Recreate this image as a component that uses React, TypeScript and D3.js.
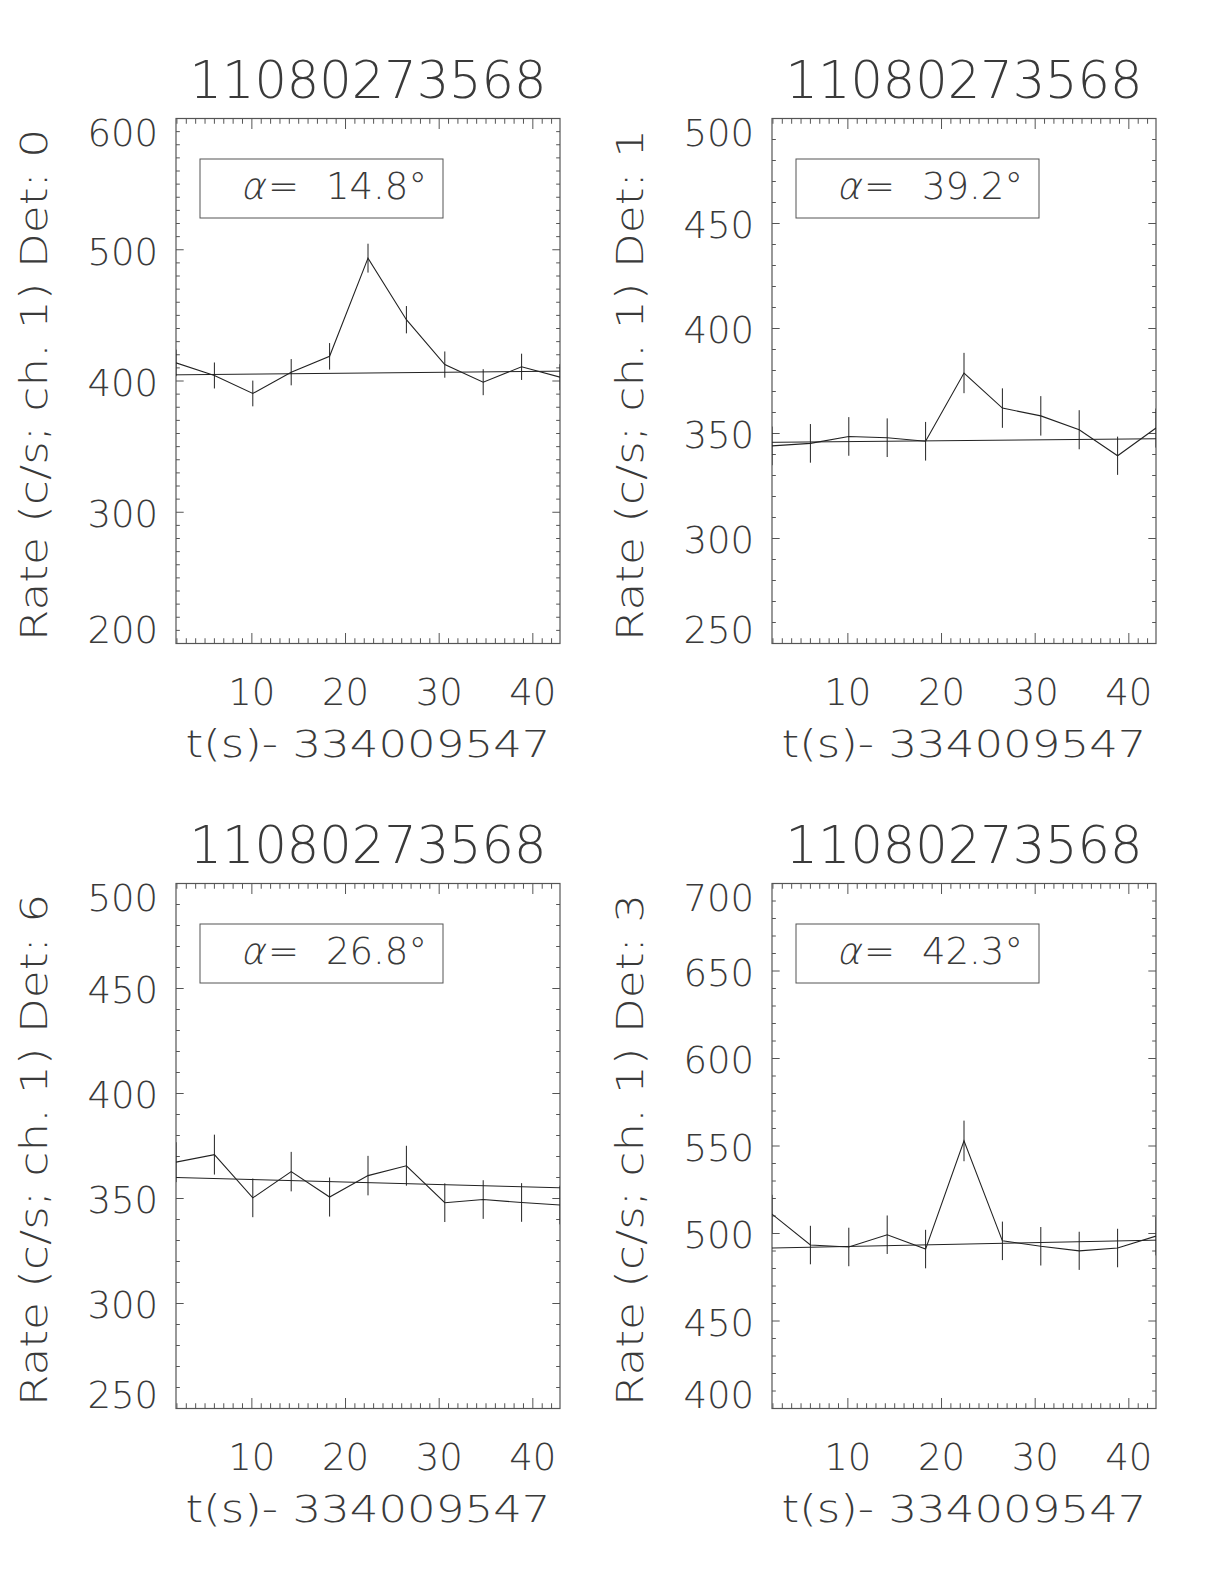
import React from "react";
import * as d3 from "d3";

// ---- data ----
const titleText = "11080273568";
const xLabelText = "t(s)- 334009547";
const detectors = ["0", "1", "6", "3"];
const alphaValues = ["14.8", "39.2", "26.8", "42.3"];
const times = [1.9, 6.0, 10.1, 14.2, 18.3, 22.4, 26.5, 30.6, 34.7, 38.8, 42.9];

const ratesDet0 = [413.8, 404.2, 390.5, 406.7, 418.8, 493.6, 446.7, 412.5, 399.1, 410.8, 402.9];
const errsDet0 = [10.1, 9.9, 9.8, 10.0, 10.1, 11.0, 10.4, 10.0, 9.9, 10.0, 9.9];
const ratesDet1 = [344.1, 345.3, 348.6, 348.0, 346.3, 378.8, 362.1, 358.4, 351.8, 339.4, 352.6];
const errsDet1 = [9.2, 9.2, 9.2, 9.2, 9.2, 9.6, 9.4, 9.4, 9.3, 9.1, 9.3];
const ratesDet6 = [367.3, 370.9, 350.3, 362.8, 350.7, 360.9, 365.6, 348.0, 349.5, 348.1, 346.9];
const errsDet6 = [9.5, 9.5, 9.2, 9.4, 9.3, 9.4, 9.5, 9.2, 9.2, 9.2, 9.2];
const ratesDet3 = [511.1, 493.4, 492.3, 499.3, 491.1, 552.9, 495.8, 492.7, 490.1, 491.7, 498.5];
const errsDet3 = [11.0, 11.0, 11.0, 11.0, 11.0, 11.6, 11.0, 11.0, 10.9, 11.0, 11.0];

const backgroundStart = [404.7, 345.8, 360.0, 491.7];
const backgroundEnd = [407.5, 347.5, 355.1, 496.2];

const yDomains: [number, number][] = [[200, 600], [250, 500], [250, 500], [400, 700]];
const yMajorSteps = [100, 50, 50, 50];
const yMinorStep = 10;
const xMajorTicks = [10, 20, 30, 40];
const xMinorStep = 1;

const rateSeries = [ratesDet0, ratesDet1, ratesDet6, ratesDet3];
const errSeries = [errsDet0, errsDet1, errsDet6, errsDet3];

// ---- layout ----
const W = 1224;
const H = 1584;
const panelLefts = [176, 772, 176, 772];
const panelTops = [118.5, 118.5, 883.5, 883.5];
const PW = 384;
const PH = 525;
const FONT = "'DejaVu Sans', sans-serif";
const TEXT_COLOR = "#3a3a3a";
const AXIS_COLOR = "#555";
const LINE_COLOR = "#222";

function Panel({ idx }: { idx: number }) {
  const left = panelLefts[idx];
  const top = panelTops[idx];
  const x = d3.scaleLinear().domain(d3.extent(times) as [number, number]).range([left, left + PW]);
  const [y0, y1] = yDomains[idx];
  const y = d3.scaleLinear().domain([y0, y1]).range([top + PH, top]);
  const rates = rateSeries[idx];
  const errs = errSeries[idx];

  const xd = x.domain();
  const xMinor = d3.range(Math.ceil(xd[0]), Math.floor(xd[1]) + 1, xMinorStep).filter((v) => !xMajorTicks.includes(v));
  const yMajor = d3.range(y0, y1 + 0.001, yMajorSteps[idx]);
  const yMinor = d3.range(y0, y1 + 0.001, yMinorStep).filter((v) => !yMajor.includes(v));

  const xMajLen = 0.02 * PH;
  const yMajLen = 0.02 * PW;

  const line = d3
    .line<number>()
    .x((_, i) => x(times[i]))
    .y((d) => y(d));

  const clipId = `clip${idx}`;
  const bottom = top + PH;
  const labelHalf = 13.5;
  const alphaX = left + 64;
  const textY = top + 80.5;

  return (
    <g>
      <defs>
        <clipPath id={clipId}>
          <rect x={left} y={top} width={PW} height={PH} />
        </clipPath>
      </defs>
      {/* title */}
      <text x={left + PW / 2} y={top - 21} textAnchor="middle" fontSize={51} fontFamily={FONT} fontWeight={200} fill={TEXT_COLOR}>
        {titleText}
      </text>
      {/* frame */}
      <rect x={left} y={top} width={PW} height={PH} fill="none" stroke={AXIS_COLOR} strokeWidth={1.2} />
      {/* x ticks */}
      {xMajorTicks.map((v) => (
        <g key={"xM" + v}>
          <line x1={x(v)} x2={x(v)} y1={bottom} y2={bottom - xMajLen} stroke={AXIS_COLOR} strokeWidth={1} />
          <line x1={x(v)} x2={x(v)} y1={top} y2={top + xMajLen} stroke={AXIS_COLOR} strokeWidth={1} />
          <text x={x(v)} y={bottom + 61.5} textAnchor="middle" fontSize={37} fontFamily={FONT} fontWeight={200} fill={TEXT_COLOR}>
            {v}
          </text>
        </g>
      ))}
      {xMinor.map((v) => (
        <g key={"xm" + v}>
          <line x1={x(v)} x2={x(v)} y1={bottom} y2={bottom - xMajLen / 2} stroke={AXIS_COLOR} strokeWidth={1} />
          <line x1={x(v)} x2={x(v)} y1={top} y2={top + xMajLen / 2} stroke={AXIS_COLOR} strokeWidth={1} />
        </g>
      ))}
      {/* y ticks */}
      {yMajor.map((v) => {
        const ty = Math.min(Math.max(y(v) + 1.5, top + labelHalf + 1), bottom - labelHalf);
        return (
          <g key={"yM" + v}>
            <line x1={left} x2={left + yMajLen} y1={y(v)} y2={y(v)} stroke={AXIS_COLOR} strokeWidth={1} />
            <line x1={left + PW} x2={left + PW - yMajLen} y1={y(v)} y2={y(v)} stroke={AXIS_COLOR} strokeWidth={1} />
            <text x={left - 18} y={ty} dy="0.36em" textAnchor="end" fontSize={37} fontFamily={FONT} fontWeight={200} fill={TEXT_COLOR}>
              {v}
            </text>
          </g>
        );
      })}
      {yMinor.map((v) => (
        <g key={"ym" + v}>
          <line x1={left} x2={left + yMajLen / 2} y1={y(v)} y2={y(v)} stroke={AXIS_COLOR} strokeWidth={1} />
          <line x1={left + PW} x2={left + PW - yMajLen / 2} y1={y(v)} y2={y(v)} stroke={AXIS_COLOR} strokeWidth={1} />
        </g>
      ))}
      {/* axis titles */}
      <text x={left + PW / 2} y={bottom + 113} textAnchor="middle" fontSize={37} fontFamily={FONT} fontWeight={200} fill={TEXT_COLOR} textLength={365} lengthAdjust="spacingAndGlyphs">
        {xLabelText}
      </text>
      <text
        transform={`translate(${left - 129},${top + PH / 2 + 4}) rotate(-90)`}
        textAnchor="middle"
        fontSize={37}
        fontFamily={FONT}
        fontWeight={200}
        fill={TEXT_COLOR}
        textLength={512}
        lengthAdjust="spacingAndGlyphs"
      >
        {`Rate (c/s; ch. 1) Det: ${detectors[idx]}`}
      </text>
      {/* alpha box */}
      <rect x={left + 24} y={top + 40.5} width={243} height={59} fill="none" stroke={AXIS_COLOR} strokeWidth={1} />
      <text
        transform={`translate(${alphaX},${textY}) skewX(-14)`}
        fontSize={37}
        fontFamily={FONT}
        fontWeight={200}
        fill={TEXT_COLOR}
      >
        α
      </text>
      <text x={left + 92} y={textY} fontSize={37} fontFamily={FONT} fontWeight={200} fill={TEXT_COLOR}>
        =
      </text>
      <text x={left + 150} y={textY} fontSize={37} fontFamily={FONT} fontWeight={200} fill={TEXT_COLOR}>
        {`${alphaValues[idx]}°`}
      </text>
      {/* data */}
      <g clipPath={`url(#${clipId})`}>
        <line
          x1={x(xd[0])}
          x2={x(xd[1])}
          y1={y(backgroundStart[idx])}
          y2={y(backgroundEnd[idx])}
          stroke={LINE_COLOR}
          strokeWidth={1}
        />
        <path d={line(rates) || ""} fill="none" stroke={LINE_COLOR} strokeWidth={1.1} />
        {rates.map((r, i) => (
          <line
            key={"e" + i}
            x1={x(times[i])}
            x2={x(times[i])}
            y1={y(r - errs[i])}
            y2={y(r + errs[i])}
            stroke={LINE_COLOR}
            strokeWidth={1}
          />
        ))}
      </g>
    </g>
  );
}

export default function App() {
  return (
    <svg width={W} height={H} style={{ position: "absolute", left: 0, top: 0, background: "#fff" }}>
      <rect x={0} y={0} width={W} height={H} fill="#fff" />
      {[0, 1, 2, 3].map((i) => (
        <Panel key={i} idx={i} />
      ))}
    </svg>
  );
}
